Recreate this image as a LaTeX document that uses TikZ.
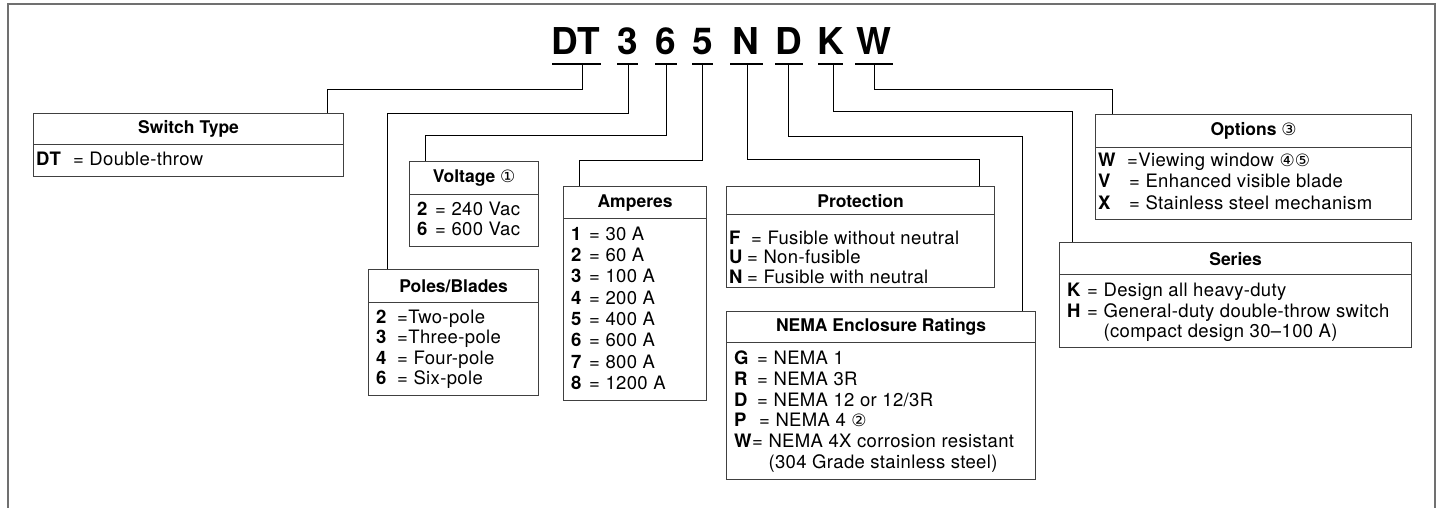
\documentclass[tikz,border=0pt]{standalone}
\usepackage{fontspec}
\setmainfont{TeX Gyre Heros}
\newfontfamily\bodyfont[LetterSpace=2]{TeX Gyre Heros}
\newfontfamily\symfont{DejaVu Sans}
\newcommand{\circd}[1]{{\symfont\fontsize{17}{17}\selectfont\mdseries #1}}
\newcommand{\ent}[3]{\makebox[#1pt][l]{\textbf{#2}}#3}
\definecolor{boxline}{HTML}{404040}
\definecolor{framecol}{HTML}{707070}
\begin{document}
\begin{tikzpicture}[x=1pt,y=-1pt,
  frame/.style={draw=framecol, line width=2pt},
  hdr/.style={draw=boxline, line width=1.2pt, anchor=north west, inner sep=0pt,
    font=\fontsize{17.5}{20}\selectfont\bfseries},
  bdy/.style={draw=boxline, line width=1.2pt, anchor=north west, inner sep=0pt},
  txt/.style={anchor=base west, inner sep=0pt, font=\bodyfont\fontsize{18.5}{20}\selectfont},
  ttl/.style={anchor=base, inner sep=0pt, font=\fontsize{37}{40}\selectfont\bfseries},
  ul/.style={line width=2.4pt},
  conn/.style={draw=black, line width=1pt}]
\useasboundingbox (0,0) rectangle (1441,508);
% outer frame (open at the bottom)
\draw[frame] (8,510) -- (8,4.5) -- (1435,4.5) -- (1435,510);

% title
\node[ttl] (t1) at (576,55) {DT};
\node[ttl] (t2) at (627.5,55) {3};
\node[ttl] (t3) at (666,55) {6};
\node[ttl] (t4) at (702.5,55) {5};
\node[ttl] (t5) at (746,55) {N};
\node[ttl] (t6) at (789,55) {D};
\node[ttl] (t7) at (830.5,55) {K};
\node[ttl] (t8) at (874,55) {W};
\draw[ul] (552,64) -- (601,64);
\draw[ul] (617,64) -- (638,64);
\draw[ul] (655,64) -- (677,64);
\draw[ul] (692,64) -- (713,64);
\draw[ul] (730,64) -- (763,64);
\draw[ul] (775,64) -- (803,64);
\draw[ul] (818,64) -- (843,64);
\draw[ul] (855,64) -- (893,64);
\coordinate (c1) at (582,64);
\coordinate (c2) at (628,64);
\coordinate (c3) at (666,64);
\coordinate (c4) at (702,64);
\coordinate (c5) at (747,64);
\coordinate (c6) at (788,64);
\coordinate (c7) at (833,64);
\coordinate (c8) at (874,64);

% Switch Type
\node[hdr, minimum width=310pt, minimum height=31pt] (swh) at (33,113) {Switch Type};
\node[bdy, minimum width=310pt, minimum height=32pt] (swb) at (33,144) {};
\node[txt] (sw1) at (36,166) {\ent{37}{DT}{= Double-throw}};

% Voltage
\node[hdr, minimum width=129pt, minimum height=33pt] (volh) at (409,161) {Voltage \circd{①}};
\node[bdy, minimum width=129pt, minimum height=52pt] (volb) at (409,194) {};
\node[txt] (v1) at (417,215) {\ent{18}{2}{= 240 Vac}};
\node[txt] (v2) at (417,235) {\ent{18}{6}{= 600 Vac}};

% Poles/Blades
\node[hdr, minimum width=170pt, minimum height=33pt] (polh) at (368,269) {Poles/Blades};
\node[bdy, minimum width=170pt, minimum height=93pt] (polb) at (368,302) {};
\node[txt] (p1) at (376,323) {\ent{21}{2}{=Two-pole}};
\node[txt] (p2) at (376,343) {\ent{21}{3}{=Three-pole}};
\node[txt] (p3) at (376,364) {\ent{21}{4}{= Four-pole}};
\node[txt] (p4) at (376,384) {\ent{21}{6}{= Six-pole}};

% Amperes
\node[hdr, minimum width=143pt, minimum height=32pt] (amph) at (563,186) {Amperes};
\node[bdy, minimum width=143pt, minimum height=182pt] (ampb) at (563,218) {};
\node[txt] (a1) at (571,240) {\ent{18}{1}{= 30 A}};
\node[txt] (a2) at (571,261) {\ent{18}{2}{= 60 A}};
\node[txt] (a3) at (571,282) {\ent{18}{3}{= 100 A}};
\node[txt] (a4) at (571,304) {\ent{18}{4}{= 200 A}};
\node[txt] (a5) at (571,325) {\ent{18}{5}{= 400 A}};
\node[txt] (a6) at (571,346) {\ent{18}{6}{= 600 A}};
\node[txt] (a7) at (571,368) {\ent{18}{7}{= 800 A}};
\node[txt] (a8) at (571,389) {\ent{18}{8}{= 1200 A}};

% Protection
\node[hdr, minimum width=268pt, minimum height=28pt] (proh) at (726,186) {Protection};
\node[bdy, minimum width=268pt, minimum height=73pt] (prob) at (726,214) {};
\node[txt] (r1) at (729,244) {\ent{22}{F}{= Fusible without neutral}};
\node[txt] (r2) at (729,263) {\ent{18}{U}{= Non-fusible}};
\node[txt] (r3) at (729,283) {\ent{18}{N}{= Fusible with neutral}};

% NEMA Enclosure Ratings
\node[hdr, minimum width=309pt, minimum height=31pt] (nemh) at (726,311) {NEMA Enclosure Ratings};
\node[bdy, minimum width=309pt, minimum height=137pt] (nemb) at (726,342) {};
\node[txt] (n1) at (734,364) {\ent{23}{G}{= NEMA 1}};
\node[txt] (n2) at (734,385) {\ent{23}{R}{= NEMA 3R}};
\node[txt] (n3) at (734,406) {\ent{23}{D}{= NEMA 12 or 12/3R}};
\node[txt] (n4) at (734,426) {\ent{25}{P}{= NEMA 4 \circd{②}}};
\node[txt] (n5) at (734,447) {\ent{18}{W}{= NEMA 4X corrosion resistant}};
\node[txt] (n6) at (734,468) {\ent{18}{\phantom{W}}{\phantom{= }(304 Grade stainless steel)}};

% Options
\node[hdr, minimum width=316pt, minimum height=33pt] (opth) at (1095,114) {Options \circd{③}};
\node[bdy, minimum width=316pt, minimum height=72pt] (optb) at (1095,147) {};
\node[txt] (o1) at (1098,167) {\ent{29}{W}{=Viewing window \circd{④⑤}}};
\node[txt] (o2) at (1098,188) {\ent{31}{V}{= Enhanced visible blade}};
\node[txt] (o3) at (1098,209) {\ent{31}{X}{= Stainless steel mechanism}};

% Series
\node[hdr, minimum width=352pt, minimum height=32pt] (serh) at (1059,242) {Series};
\node[bdy, minimum width=352pt, minimum height=73pt] (serb) at (1059,274) {};
\node[txt] (s1) at (1067,296) {\ent{20}{K}{= Design all heavy-duty}};
\node[txt] (s2) at (1067,317) {\ent{20}{H}{= General-duty double-throw switch}};
\node[txt] (s3) at (1067,337) {\ent{20}{\phantom{H}}{\phantom{= }(compact design 30–100 A)}};

% connector end points on the boxes
\coordinate (e1) at ([xshift=294pt]swh.north west);
\coordinate (e2) at ([xshift=19pt]polh.north west);
\coordinate (e3) at ([xshift=16pt]volh.north west);
\coordinate (e4) at ([xshift=16pt]amph.north west);
\coordinate (e5) at ([xshift=-16pt]proh.north east);
\coordinate (e6) at ([xshift=-14pt]nemh.north east);
\coordinate (e7) at ([xshift=13pt]serh.north west);
\coordinate (e8) at ([xshift=17pt]opth.north west);

% connectors
\draw[conn] (c1) -- ++(0,26) -| (e1);
\draw[conn] (c2) -- ++(0,50) -| (e2);
\draw[conn] (c3) -- ++(0,72) -| (e3);
\draw[conn] (c4) -- ++(0,97) -| (e4);
\draw[conn] (c5) -- ++(0,96) -| (e5);
\draw[conn] (c6) -- ++(0,73) -| (e6);
\draw[conn] (c7) -- ++(0,48) -| (e7);
\draw[conn] (c8) -- ++(0,26) -| (e8);
\end{tikzpicture}
\end{document}
